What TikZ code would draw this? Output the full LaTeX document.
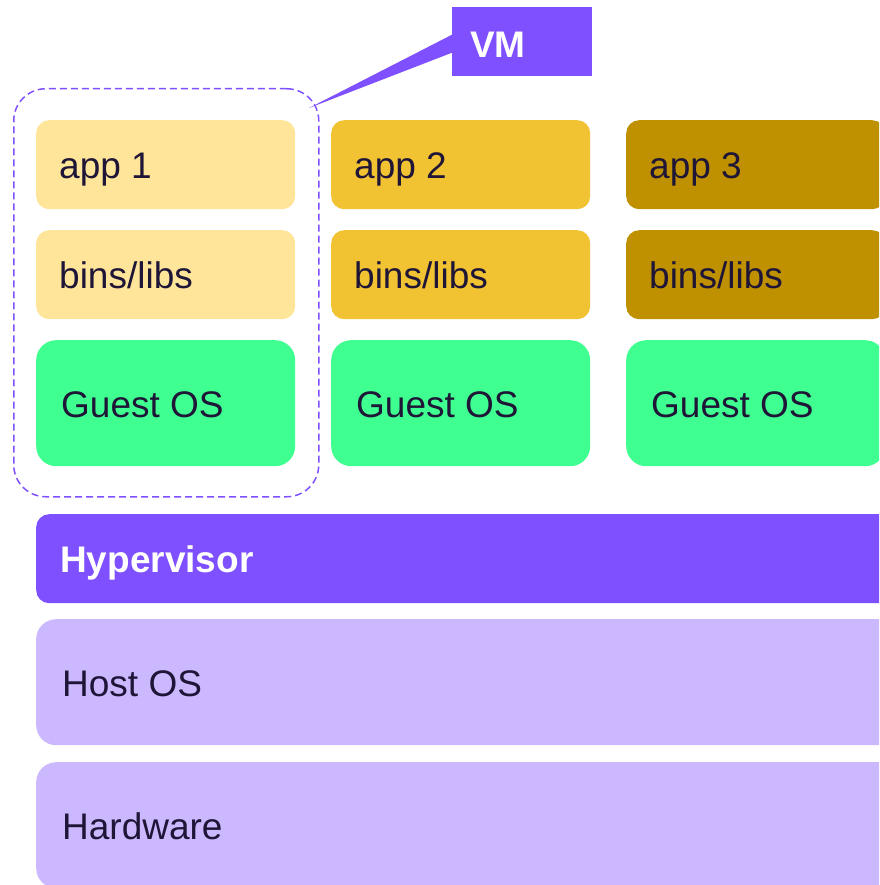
\documentclass[tikz,border=0pt]{standalone}
\usepackage{fontspec}
\setmainfont{Liberation Sans}
\definecolor{appA}{HTML}{FFE599}
\definecolor{appB}{HTML}{F1C232}
\definecolor{appC}{HTML}{BF9000}
\definecolor{guest}{HTML}{40FF91}
\definecolor{hyper}{HTML}{7F50FF}
\definecolor{host}{HTML}{CCB8FF}
\definecolor{ink}{HTML}{1E1537}
\tikzset{
  layer/.style={draw=none, rounded corners=#1, inner sep=0pt, anchor=north west},
  layer/.default=13pt,
  lbl/.style={inner sep=0pt, anchor=west, text height=28pt, text depth=0pt,
              text=ink, font=\fontsize{37}{44}\selectfont},
  blbl/.style={lbl, text=white, font=\fontsize{37}{44}\selectfont\bfseries},
}
\begin{document}
\begin{tikzpicture}[x=1pt, y=-1pt]
  \useasboundingbox (0,0) rectangle (879,885);
  \clip (0,0) rectangle (879,885);

  % three virtual machines: app, bins/libs and guest OS stacks
  \foreach \col/\x/\c/\n in {1/36/appA/1, 2/331/appB/2, 3/626/appC/3} {
    \node[layer, fill=\c, minimum width=259pt, minimum height=89pt] (app\col) at (\x,120) {};
    \node[lbl] (app\col t) at ([xshift=23pt]app\col.west) {app \n};
    \node[layer, fill=\c, minimum width=259pt, minimum height=89pt] (bin\col) at (\x,230) {};
    \node[lbl] (bin\col t) at ([xshift=23pt]bin\col.west) {bins/libs};
    \node[layer=20pt, fill=guest, minimum width=259pt, minimum height=126pt] (gos\col) at (\x,340) {};
    \node[lbl] (gos\col t) at ([xshift=25pt]gos\col.west) {Guest OS};
  }

  % shared layers underneath
  \node[layer, fill=hyper, minimum width=880pt, minimum height=89pt] (hyp) at (36,514) {};
  \node[blbl] (hypt) at ([xshift=24pt]hyp.west) {Hypervisor};
  \node[layer=20pt, fill=host, minimum width=880pt, minimum height=126pt] (hos) at (36,619) {};
  \node[lbl] (host) at ([xshift=26pt]hos.west) {Host OS};
  \node[layer=20pt, fill=host, minimum width=880pt, minimum height=126pt] (hw) at (36,762) {};
  \node[lbl] (hwt) at ([xshift=26pt]hw.west) {Hardware};

  % dashed outline around the first VM
  \node[draw=hyper, line width=1.5pt, dash pattern=on 7pt off 4pt, rounded corners=32pt,
        inner sep=0pt, anchor=north west, minimum width=305pt, minimum height=408pt] (vmbox) at (13,88) {};

  % VM callout
  \node[fill=hyper, inner sep=0pt, anchor=north west, minimum width=140pt, minimum height=69pt] (vm) at (452,7) {};
  \node[blbl] (vmt) at ([xshift=18pt, yshift=-2pt]vm.west) {VM};
  \coordinate (tip) at (309,108);
  \fill[hyper] (tip) -- ([yshift=7pt]vm.west) -- ([yshift=-11pt]vm.west) -- cycle;
\end{tikzpicture}
\end{document}
